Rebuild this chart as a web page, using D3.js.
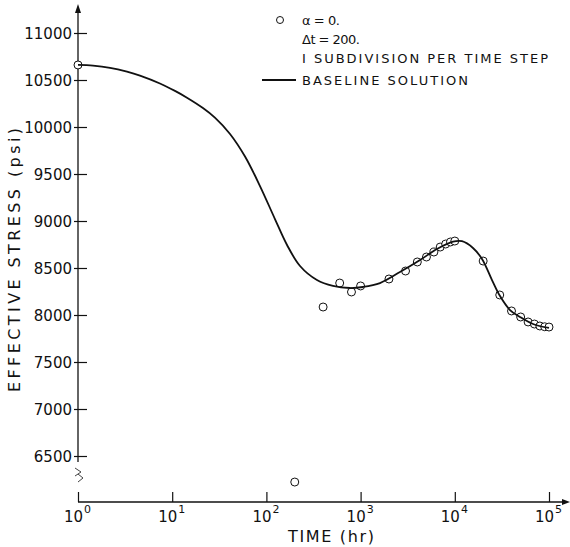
<!DOCTYPE html>
<html>
<head>
<meta charset="utf-8">
<script src="https://cdn.jsdelivr.net/npm/d3@7"></script>
<style>
  body { margin: 0; background: #fff; }
  text { font-family: "DejaVu Sans", sans-serif; fill: #111; }
</style>
</head>
<body>
<div class="mainView"></div>
<script>
// baseline solution (time in hr, effective stress in psi)
let curveTime = [1, 1.442, 2.188, 3.311, 4.55, 7.41, 10.7, 14.35, 21.2, 28.4, 41.1, 59.3, 85.5, 123.3, 165.6, 227.5, 344, 509, 771,
                 1059, 1607, 2618, 4276, 6471, 9572, 11912, 15596, 19454, 24831, 30200, 38548, 49204, 67608, 100000];
let curveStress = [10660, 10653, 10630, 10589, 10547, 10463, 10384, 10312, 10202, 10100, 9926, 9686, 9372, 9021, 8745, 8521, 8372, 8309, 8287,
                   8298, 8340, 8457, 8585, 8702, 8780, 8785, 8713, 8596, 8372, 8202, 8053, 7979, 7904, 7862];
// alpha = 0 run
let pointTime = [1, 200, 400, 600, 800, 1000, 2000, 3000, 4000, 5000, 6000, 7000, 8000, 9000, 10000,
                 20000, 30000, 40000, 50000, 60000, 70000, 80000, 90000, 100000];
let pointStress = [10660, 6223, 8085, 8340, 8245, 8309, 8383, 8468, 8564, 8617, 8670, 8723, 8755, 8777, 8787,
                   8574, 8213, 8043, 7979, 7926, 7904, 7883, 7875, 7872];
let yTicks = [6500, 7000, 7500, 8000, 8500, 9000, 9500, 10000, 10500, 11000];
let xTicks = [1, 10, 100, 1000, 10000, 100000];
let legendLines = ["\u03B1 = 0.", "\u0394t = 200.", "I SUBDIVISION PER TIME STEP"];

let width = 570, height = 547;
let svg = d3.select(".mainView").append("svg")
    .attr("width", width)
    .attr("height", height);

let xScale = d3.scaleLog().domain([1, 100000]).range([78, 549]);
let yScale = d3.scaleLinear().domain([6500, 11000]).range([456, 33]);
let axisY0 = 502;

// x axis
let axisX = d3.axisBottom(xScale).tickValues(xTicks).tickSize(-10).tickFormat("");
let gx = svg.append("g").attr("transform", "translate(0," + axisY0 + ")").call(axisX);
gx.select(".domain").remove();
gx.selectAll(".tick line").attr("stroke", "#111").attr("stroke-width", 1.2);
gx.append("line").attr("x1", 78).attr("x2", 566).attr("y1", 0).attr("y2", 0)
    .attr("stroke", "#111").attr("stroke-width", 1.3);
gx.append("path").attr("d", "M570,0 L562,-3 L562,3 Z").attr("fill", "#111");

xTicks.forEach((t, i) => {
    let lab = gx.append("text")
        .attr("x", xScale(t) - 14)
        .attr("y", 20)
        .attr("text-anchor", "start")
        .style("font-size", "15px")
        .text("10");
    lab.append("tspan")
        .attr("dx", 1)
        .attr("dy", -9)
        .style("font-size", "11px")
        .text(i);
});

gx.append("text")
    .attr("x", 331)
    .attr("y", 40)
    .attr("text-anchor", "middle")
    .attr("textLength", 86)
    .attr("lengthAdjust", "spacing")
    .style("font-size", "16px")
    .text("TIME  (hr)");

// y axis
let axisY = d3.axisLeft(yScale).tickValues(yTicks).tickSize(-9).tickPadding(0).tickFormat("");
let gy = svg.append("g").attr("transform", "translate(78,0)").call(axisY);
gy.select(".domain").remove();
gy.selectAll(".tick line").attr("x1", -4).attr("stroke", "#111").attr("stroke-width", 1.2);
gy.selectAll(".tick").append("text")
    .attr("x", -6)
    .attr("dy", "0.36em")
    .attr("text-anchor", "end")
    .style("font-size", "15px")
    .text(d => d);
gy.append("line").attr("x1", 0).attr("x2", 0).attr("y1", 10).attr("y2", 462)
    .attr("stroke", "#111").attr("stroke-width", 1.3);
gy.append("path").attr("d", "M0,4 L-3,13 L3,13 Z").attr("fill", "#111");
// axis break mark
gy.append("path").attr("d", "M-3,468 L3,472 L-3,476 M0,474 L5,478 L0,482")
    .attr("fill", "none").attr("stroke", "#444").attr("stroke-width", 1);

svg.append("text")
    .attr("transform", "translate(20,260) rotate(-90)")
    .attr("text-anchor", "middle")
    .attr("textLength", 264)
    .attr("lengthAdjust", "spacing")
    .style("font-size", "16px")
    .text("EFFECTIVE STRESS (psi)");

// points
svg.append("g").selectAll("circle")
    .data(pointTime.map((t, i) => ({ t: t, s: pointStress[i] })))
    .enter()
    .append("circle")
    .attr("cx", d => xScale(d.t))
    .attr("cy", d => yScale(d.s))
    .attr("r", 4)
    .attr("fill", "#fff")
    .attr("stroke", "#111")
    .attr("stroke-width", 1);

// baseline curve
let line = d3.line()
    .x(d => xScale(d.t))
    .y(d => yScale(d.s))
    .curve(d3.curveCatmullRom.alpha(0.5));
svg.append("path")
    .datum(curveTime.map((t, i) => ({ t: t, s: curveStress[i] })))
    .attr("d", line)
    .attr("fill", "none")
    .attr("stroke", "#111")
    .attr("stroke-width", 1.8);

// legend
let legend = svg.append("g");
legend.append("circle").attr("cx", 280).attr("cy", 20).attr("r", 3.5)
    .attr("fill", "#fff").attr("stroke", "#111");
legendLines.forEach((s, i) => {
    legend.append("text")
        .attr("x", 302)
        .attr("y", [25, 44, 63][i])
        .style("font-size", "13px")
        .attr("textLength", [38, 58, 246][i])
        .attr("lengthAdjust", "spacing")
        .text(s);
});
legend.append("line").attr("x1", 262).attr("x2", 296).attr("y1", 80).attr("y2", 80)
    .attr("stroke", "#111").attr("stroke-width", 1.8);
legend.append("text")
    .attr("x", 302)
    .attr("y", 85)
    .style("font-size", "13px")
    .attr("textLength", 166)
    .attr("lengthAdjust", "spacing")
    .text("BASELINE SOLUTION");
</script>
</body>
</html>
